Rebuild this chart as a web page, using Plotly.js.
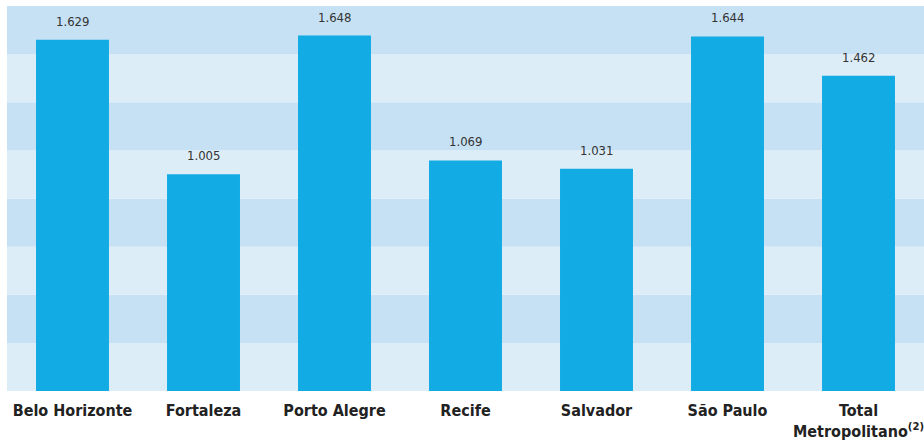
<!DOCTYPE html>
<html>
<head>
<meta charset="utf-8">
<script src="https://cdn.plot.ly/plotly-3.0.1.min.js"></script>
<style>html,body{margin:0;padding:0;background:#fff;}#chart{width:924px;height:441px;}</style>
</head>
<body>
<div id="chart"></div>
<script>
const categories = ["Belo Horizonte", "Fortaleza", "Porto Alegre", "Recife", "Salvador", "São Paulo", "Total Metropolitano"];
const tickLabels = ["Belo Horizonte", "Fortaleza", "Porto Alegre", "Recife", "Salvador", "São Paulo", "Total<br>Metropolitano<sup>(2)</sup>"];
const values = [1629, 1005, 1648, 1069, 1031, 1644, 1462];

const nBands = 8;
const shapes = [];
for (let i = 0; i < nBands; i++) {
  shapes.push({
    type: "rect", xref: "paper", yref: "paper", layer: "below",
    x0: 0, x1: 1, y0: i / nBands, y1: (i + 1) / nBands,
    fillcolor: (i % 2 === 0) ? "#ddedf8" : "#c6e1f4",
    line: {width: 0}
  });
}

const fmt = v => v.toLocaleString("pt-BR");
const annotations = categories.map((c, i) => ({
  x: c, y: values[i], xref: "x", yref: "y",
  text: fmt(values[i]), showarrow: false,
  yanchor: "bottom", yshift: 9,
  font: {family: "DejaVu Sans Condensed, sans-serif", size: 13, color: "#333333", stretch: "condensed"}
}));

const trace = {
  type: "bar",
  x: categories,
  y: values,
  marker: {color: "#12abe4"},
  hoverinfo: "skip"
};

const layout = {
  width: 924, height: 441,
  margin: {l: 7, r: 0, t: 6, b: 50},
  paper_bgcolor: "#ffffff",
  plot_bgcolor: "rgba(0,0,0,0)",
  separators: ",.",
  bargap: 0.443,
  showlegend: false,
  shapes: shapes,
  annotations: annotations,
  xaxis: {
    tickmode: "array", tickvals: categories, ticktext: tickLabels,
    tickfont: {family: "DejaVu Sans Condensed, sans-serif", size: 16, color: "#222222", weight: "bold", stretch: "condensed"},
    ticklabelstandoff: 8,
    showgrid: false, zeroline: false, showline: false, ticks: "", fixedrange: true
  },
  yaxis: {
    range: [0, 1785], showgrid: false, zeroline: false, showticklabels: false, ticks: "", fixedrange: true
  }
};

Plotly.newPlot("chart", [trace], layout, {displayModeBar: false, staticPlot: true});
</script>
</body>
</html>
